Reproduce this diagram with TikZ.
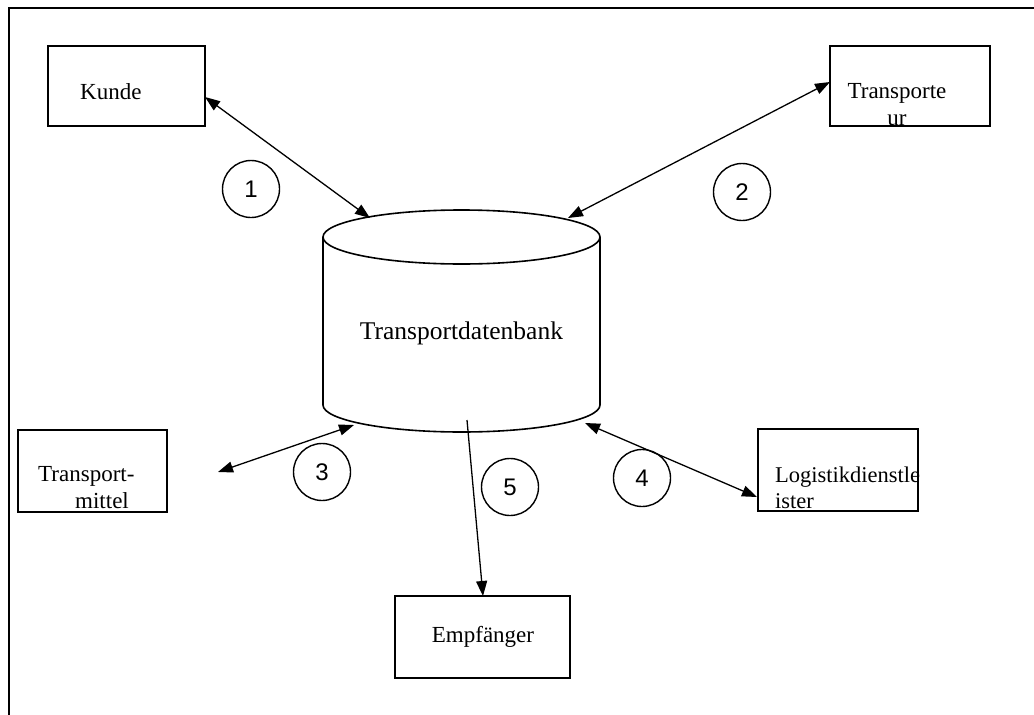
\documentclass[tikz,border=0pt]{standalone}
\usepackage{fontspec}
\setmainfont{Liberation Serif}
\newfontfamily\digitfont{Liberation Sans}
\usetikzlibrary{arrows.meta}
\tikzset{
  boxnode/.style={draw, line width=1.6pt, minimum width=#1, inner sep=0pt},
  txt/.style={font=\fontsize{23}{27}\selectfont, inner sep=0pt},
  numcircle/.style={draw, line width=1.4pt, circle, minimum size=57pt, inner sep=0pt,
    font=\digitfont\fontsize{24}{24}\selectfont},
  dbl/.style={line width=1.3pt, {Triangle[length=15pt,width=11pt]}-{Triangle[length=15pt,width=11pt]}},
  sgl/.style={line width=1.3pt, -{Triangle[length=15pt,width=11pt]}},
  frameline/.style={line width=1.6pt}
}
\begin{document}
\begin{tikzpicture}[x=1pt,y=-1pt]
\useasboundingbox (0,0) rectangle (1034,715);
% frame
\draw[frameline] (9,715) -- (9,8) -- (1034,8);
% boxes
\node[boxnode=157pt, minimum height=80pt] (kunde) at (126.5,86) {};
\node[txt, anchor=west] (kundet) at (80,92) {Kunde};
\node[boxnode=160pt, minimum height=80pt] (trans) at (910,86) {};
\node[txt, align=center] (transt) at (897,105) {Transporte\\ur};
\node[boxnode=149pt, minimum height=82pt] (mittel) at (92.5,471) {};
\node[txt, align=left, anchor=west] (mittelt) at (38,488) {Transport-\\\hspace*{37pt}mittel};
\node[boxnode=175pt, minimum height=82pt] (empf) at (482.5,637) {};
\node[txt] (empft) at (483,637) {Empf\"anger};
\node[boxnode=160pt, minimum height=82pt] (logi) at (838,470) {};
\node[txt, align=left, anchor=west, font=\fontsize{22.5}{26}\selectfont] (logit) at (775,488) {Logistikdienstle\\ister};
% cylinder
\draw[line width=1.6pt] (461.5,237) ellipse [x radius=138.5pt, y radius=27pt];
\draw[line width=1.6pt] (323,237) -- (323,405) arc[start angle=180, end angle=360, x radius=138.5pt, y radius=27pt] -- (600,237);
\node[txt, font=\fontsize{25.5}{30}\selectfont] (db) at (461.5,333) {Transportdatenbank};
% circles
\node[numcircle] (c1) at (251,189) {1};
\node[numcircle] (c2) at (742,192) {2};
\node[numcircle] (c3) at (322,472) {3};
\node[numcircle] (c5) at (510,487) {5};
\node[numcircle] (c4) at (642,478) {4};
% connector ends
\coordinate (kA) at (205,97);  \coordinate (kB) at (370,218);
\coordinate (tA) at (830,82);  \coordinate (tB) at (568,218);
\coordinate (mA) at (218,472); \coordinate (mB) at (354,425);
\coordinate (eA) at (467,420); \coordinate (eB) at (483,596);
\coordinate (lA) at (757,497); \coordinate (lB) at (585,423);
\draw[dbl] (kA) -- (kB);
\draw[dbl] (tA) -- (tB);
\draw[dbl] (mA) -- (mB);
\draw[sgl] (eA) -- (eB);
\draw[dbl] (lA) -- (lB);
\end{tikzpicture}
\end{document}
